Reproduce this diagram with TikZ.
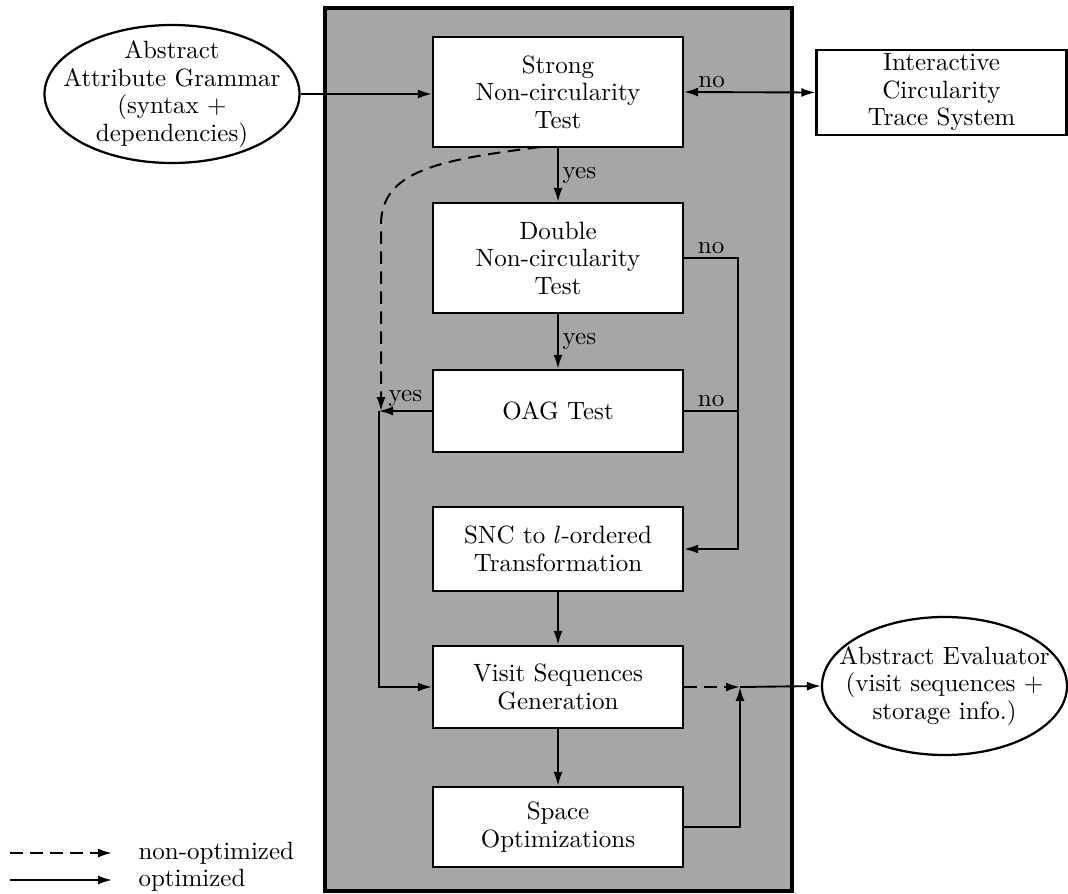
\documentclass[tikz,border=0pt]{standalone}
\usetikzlibrary{arrows.meta,calc,shapes.geometric}
\begin{document}
\begin{tikzpicture}[x=0.4pt,y=-0.4pt,
  font=\fontsize{10}{11}\selectfont,
  box/.style={draw, line width=0.9pt, fill=white, minimum width=100pt, inner sep=0pt, align=center},
  ell/.style={draw, ellipse, line width=0.9pt, fill=white, inner sep=0pt},
  tip/.tip={Latex[length=5.6pt,width=3.6pt]},
  conn/.style={line width=0.75pt, -tip},
  plain/.style={line width=0.75pt},
  dsh/.style={line width=0.8pt, dash pattern=on 5pt off 3pt},
  lbl/.style={inner sep=1.5pt}]
\useasboundingbox (0,0) rectangle (1068,894);
% shaded panel
\path[draw, line width=1.3pt, fill=black!35] (325,8) rectangle (792,891);
% nodes
\node[box, minimum height=44pt] (snt) at (558,92) {Strong\\Non-circularity\\Test};
\node[box, minimum height=34pt] (ict) at (941.5,92.5) {Interactive\\Circularity\\Trace System};
\node[box, minimum height=44pt] (dnt) at (558,258) {Double\\Non-circularity\\Test};
\node[box, minimum height=32.8pt] (oag) at (558,411) {OAG Test};
\node[box, minimum height=33.6pt] (snc) at (558,549) {SNC to $l$-ordered\\Transformation};
\node[box, minimum height=32.8pt] (vsg) at (558,687) {Visit Sequences\\Generation};
\node[box, minimum height=32pt] (spo) at (558,827) {Space\\Optimizations};
\node[ell, minimum width=102pt, minimum height=55.2pt] (aag) at (172,94) {};
\node[align=center, inner sep=0pt] (aagt) at (aag) {Abstract\\Attribute Grammar\\(syntax +\\dependencies)};
\node[ell, minimum width=98pt, minimum height=55.2pt] (aev) at (944.5,686) {};
\node[align=center, inner sep=0pt] (aevt) at (aev) {Abstract Evaluator\\(visit sequences +\\storage info.)};
% junctions
\coordinate (j1) at (379,411);
\coordinate (j2) at (740,687);
\coordinate (rx) at (738,0);
\coordinate (ds) at (540,147);
% connectors
\draw[conn] (aag.east) -- (aag.east -| snt.west);
\draw[line width=0.75pt, tip-tip] (snt.east) -- node[lbl, pos=0.21, above] {no} (ict.west);
\draw[conn] (snt) -- node[lbl, midway, right] {yes} (dnt);
\draw[conn] (dnt) -- node[lbl, midway, right] {yes} (oag);
\draw[conn] (dnt.east) -- node[lbl, above] {no} (dnt.east -| rx) |- (snc.east);
\draw[plain] (oag.east) -- node[lbl, above] {no} (oag.east -| rx);
\draw[conn] (oag.west) -- node[lbl, above] {yes} (j1);
\draw[conn] (j1) |- (vsg.west);
\draw[dsh, -tip] (ds) .. controls (440,160) and (381,170) .. (381,225) -- (381,411);
\draw[conn] (snc) -- (vsg);
\draw[conn] (vsg) -- (spo);
\draw[dsh, -tip] (vsg.east) -- (j2);
\draw[conn] (spo.east) -| (j2);
\draw[conn] (j2) -- (aev.west);
% legend
\coordinate (l1a) at (10,853);
\coordinate (l1b) at (112,853);
\coordinate (l2a) at (10,880);
\coordinate (l2b) at (112,880);
\draw[dsh, -tip] (l1a) -- (l1b);
\draw[conn] (l2a) -- (l2b);
\node[anchor=west, inner sep=0pt] (t1) at (138,853) {non-optimized};
\node[anchor=west, inner sep=0pt] (t2) at (138,880) {optimized};
\end{tikzpicture}
\end{document}
